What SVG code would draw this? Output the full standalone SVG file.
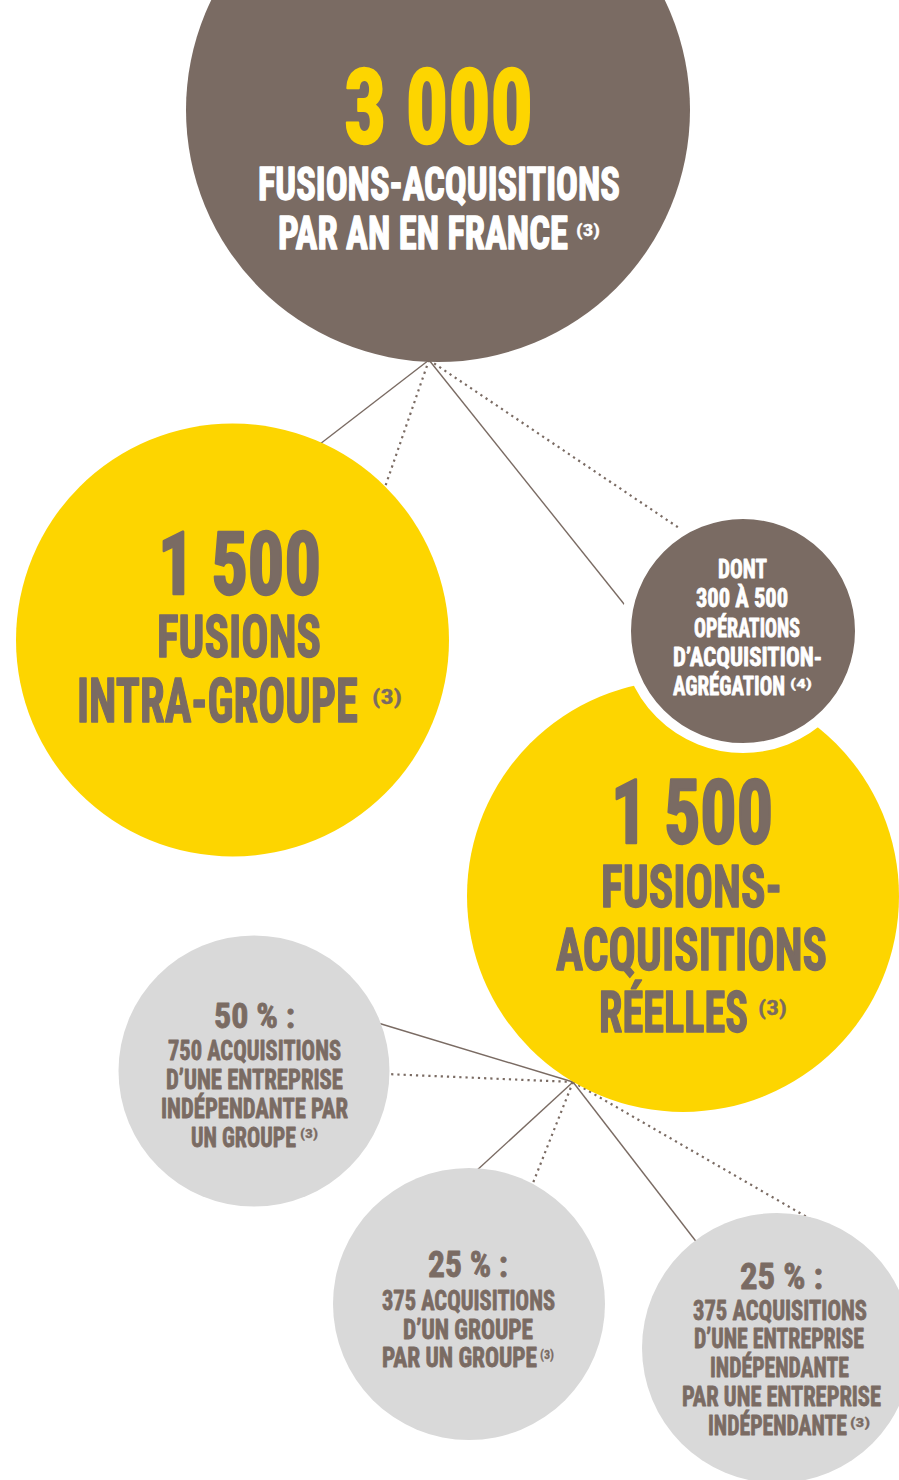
<svg xmlns="http://www.w3.org/2000/svg" width="899" height="1480" viewBox="0 0 899 1480">
<style>
.t{font-family:"Liberation Sans Narrow","Roboto Condensed","Liberation Sans",Arial,sans-serif;font-weight:bold;stroke-linejoin:round}
.br{fill:#7a6b63;stroke:#7a6b63}
.wh{fill:#ffffff;stroke:#ffffff}
.ye{fill:#fdd500}
.yt{fill:#fdd500;stroke:#fdd500}
.s3{stroke-width:2.4}
.s2{stroke-width:1.4}
.s1{stroke-width:0.8}
.s0{stroke-width:0.3}
.solid{stroke:#7a6b63;stroke-width:1.4;fill:none}
.dot{stroke:#7a6b63;stroke-width:2.2;stroke-dasharray:2.2 4;fill:none}
</style>
<rect width="899" height="1480" fill="#ffffff"/>
<g id="connectors">
<line class="solid" x1="429" y1="360" x2="320" y2="444"/>
<line class="dot" x1="429" y1="360" x2="384" y2="490"/>
<line class="solid" x1="429" y1="360" x2="628" y2="609"/>
<line class="dot" x1="429" y1="360" x2="682" y2="530"/>
<line class="solid" x1="573" y1="1082" x2="378" y2="1023"/>
<line class="dot" x1="573" y1="1082" x2="386" y2="1074"/>
<line class="solid" x1="573" y1="1082" x2="475" y2="1172"/>
<line class="dot" x1="573" y1="1082" x2="531" y2="1188"/>
<line class="solid" x1="573" y1="1082" x2="698" y2="1244"/>
<line class="dot" x1="573" y1="1082" x2="812" y2="1220"/>
</g>
<g id="node-top">
<circle cx="438" cy="110" r="252" fill="#7a6b63"/>
<text class="t yt s3" x="344" y="143" font-size="103" textLength="189" lengthAdjust="spacingAndGlyphs">3 000</text>
<text class="t wh s2" x="258" y="200" font-size="46" textLength="362" lengthAdjust="spacingAndGlyphs">FUSIONS-ACQUISITIONS</text>
<text class="t wh s2" x="278" y="249"><tspan font-size="46" textLength="290" lengthAdjust="spacingAndGlyphs">PAR AN EN FRANCE</tspan><tspan class="s0" x="576" y="236" font-size="16" textLength="24" lengthAdjust="spacingAndGlyphs">(3)</tspan></text>
</g>
<g id="node-intra">
<circle cx="232.5" cy="640" r="216.5" class="ye"/>
<text class="t br s3" x="158" y="594" font-size="88" textLength="163" lengthAdjust="spacingAndGlyphs">1 500</text>
<text class="t br s2" x="157" y="657" font-size="59" textLength="164" lengthAdjust="spacingAndGlyphs">FUSIONS</text>
<text class="t br s2" x="77" y="722"><tspan font-size="61" textLength="281" lengthAdjust="spacingAndGlyphs">INTRA-GROUPE</tspan><tspan class="s0" x="372" y="704" font-size="21" textLength="30" lengthAdjust="spacingAndGlyphs">(3)</tspan></text>
</g>
<g id="node-reelles">
<circle cx="683" cy="896" r="216" class="ye"/>
<text class="t br s3" x="611" y="843" font-size="89" textLength="162" lengthAdjust="spacingAndGlyphs">1 500</text>
<text class="t br s2" x="601" y="907" font-size="59" textLength="181" lengthAdjust="spacingAndGlyphs">FUSIONS-</text>
<text class="t br s2" x="556" y="970" font-size="60" textLength="271" lengthAdjust="spacingAndGlyphs">ACQUISITIONS</text>
<text class="t br s2" x="599" y="1032"><tspan font-size="57" textLength="149" lengthAdjust="spacingAndGlyphs">RÉELLES</tspan><tspan class="s0" x="758" y="1015" font-size="21" textLength="29" lengthAdjust="spacingAndGlyphs">(3)</tspan></text>
</g>
<g id="node-agregation">
<circle cx="743" cy="631" r="117" fill="#7a6b63" stroke="#ffffff" stroke-width="10"/>
<text class="t wh s1" x="718" y="578" font-size="26" textLength="49" lengthAdjust="spacingAndGlyphs">DONT</text>
<text class="t wh s1" x="696" y="607" font-size="26" textLength="92" lengthAdjust="spacingAndGlyphs">300 À 500</text>
<text class="t wh s1" x="694" y="637" font-size="26" textLength="106" lengthAdjust="spacingAndGlyphs">OPÉRATIONS</text>
<text class="t wh s1" x="673" y="666" font-size="26" textLength="149" lengthAdjust="spacingAndGlyphs">D’ACQUISITION-</text>
<text class="t wh s1" x="673" y="695"><tspan font-size="26" textLength="112" lengthAdjust="spacingAndGlyphs">AGRÉGATION</tspan><tspan class="s0" x="790" y="688" font-size="12" textLength="22" lengthAdjust="spacingAndGlyphs">(4)</tspan></text>
</g>
<g id="node-50">
<circle cx="254" cy="1071" r="135.5" fill="#d9d9d9"/>
<text class="t br s1" x="214" y="1028" font-size="35" textLength="81" lengthAdjust="spacingAndGlyphs">50 % :</text>
<text class="t br s1" x="168" y="1060" font-size="28" textLength="173" lengthAdjust="spacingAndGlyphs">750 ACQUISITIONS</text>
<text class="t br s1" x="166" y="1089" font-size="28" textLength="177" lengthAdjust="spacingAndGlyphs">D’UNE ENTREPRISE</text>
<text class="t br s1" x="161" y="1118" font-size="28" textLength="187" lengthAdjust="spacingAndGlyphs">INDÉPENDANTE PAR</text>
<text class="t br s1" x="191" y="1147"><tspan font-size="28" textLength="105" lengthAdjust="spacingAndGlyphs">UN GROUPE</tspan><tspan class="s0" x="300" y="1138" font-size="13" textLength="18" lengthAdjust="spacingAndGlyphs">(3)</tspan></text>
</g>
<g id="node-25a">
<circle cx="469" cy="1304" r="136" fill="#d9d9d9"/>
<text class="t br s1" x="428" y="1277" font-size="36" textLength="80" lengthAdjust="spacingAndGlyphs">25 % :</text>
<text class="t br s1" x="382" y="1310" font-size="28" textLength="173" lengthAdjust="spacingAndGlyphs">375 ACQUISITIONS</text>
<text class="t br s1" x="403" y="1339" font-size="28" textLength="130" lengthAdjust="spacingAndGlyphs">D’UN GROUPE</text>
<text class="t br s1" x="382" y="1367"><tspan font-size="28" textLength="155" lengthAdjust="spacingAndGlyphs">PAR UN GROUPE</tspan><tspan class="s0" x="540" y="1359" font-size="13" textLength="14" lengthAdjust="spacingAndGlyphs">(3)</tspan></text>
</g>
<g id="node-25b">
<circle cx="777" cy="1348" r="135" fill="#d9d9d9"/>
<text class="t br s1" x="740" y="1289" font-size="36" textLength="83" lengthAdjust="spacingAndGlyphs">25 % :</text>
<text class="t br s1" x="693" y="1320" font-size="28" textLength="174" lengthAdjust="spacingAndGlyphs">375 ACQUISITIONS</text>
<text class="t br s1" x="694" y="1348" font-size="28" textLength="170" lengthAdjust="spacingAndGlyphs">D’UNE ENTREPRISE</text>
<text class="t br s1" x="710" y="1377" font-size="28" textLength="139" lengthAdjust="spacingAndGlyphs">INDÉPENDANTE</text>
<text class="t br s1" x="682" y="1406" font-size="28" textLength="199" lengthAdjust="spacingAndGlyphs">PAR UNE ENTREPRISE</text>
<text class="t br s1" x="708" y="1435"><tspan font-size="28" textLength="139" lengthAdjust="spacingAndGlyphs">INDÉPENDANTE</tspan><tspan class="s0" x="850" y="1427" font-size="13" textLength="20" lengthAdjust="spacingAndGlyphs">(3)</tspan></text>
</g>
</svg>
